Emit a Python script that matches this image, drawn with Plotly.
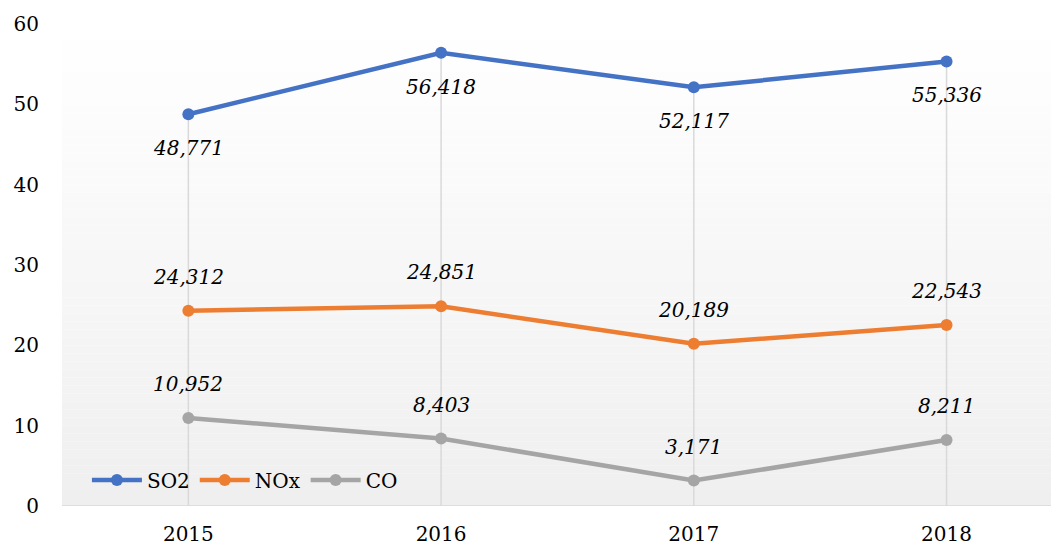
import plotly.graph_objects as go

years = ["2015", "2016", "2017", "2018"]
so2 = [48.771, 56.418, 52.117, 55.336]
nox = [24.312, 24.851, 20.189, 22.543]
co = [10.952, 8.403, 3.171, 8.211]
y_ticks = [0, 10, 20, 30, 40, 50, 60]

series = [
    ("SO2", so2, "#4472C4", -34),
    ("NOx", nox, "#ED7D31", 34),
    ("CO", co, "#A5A5A5", 34),
]

def fmt(v):
    return f"{v:,.3f}".replace(".", ",")

fig = go.Figure()

# gradient background bands
n = 60
shapes = []
for i in range(n):
    t = i / (n - 1)
    c = int(round(255 - (255 - 239) * t))
    shapes.append(dict(type="rect", xref="paper", yref="paper",
                       x0=0, x1=1, y0=1 - (i + 1) / n, y1=1 - i / n,
                       fillcolor=f"rgb({c},{c},{c})", line=dict(width=0), layer="below"))

# drop lines from top series to axis
dx, dy = [], []
for yr, v in zip(years, so2):
    dx += [yr, yr, None]
    dy += [0, v, None]
fig.add_trace(go.Scatter(x=dx, y=dy, mode="lines", line=dict(color="#d9d9d9", width=1.5),
                         showlegend=False, hoverinfo="skip"))

annotations = []
for name, vals, color, shift in series:
    fig.add_trace(go.Scatter(x=years, y=vals, name=name, mode="lines+markers",
                             line=dict(color=color, width=4.5),
                             marker=dict(color=color, size=12)))
    for i, v in enumerate(vals):
        annotations.append(dict(x=i, y=v, xref="x", yref="y", text=fmt(v),
                                showarrow=False, yshift=shift,
                                font=dict(family="DejaVu Serif", size=20, color="#000000",
                                          style="italic")))

fig.update_layout(
    width=1051, height=540,
    margin=dict(l=54, r=0, t=16, b=42, autoexpand=False),
    paper_bgcolor="white", plot_bgcolor="rgba(0,0,0,0)",
    shapes=shapes, annotations=annotations,
    font=dict(family="DejaVu Serif", size=20, color="#000000"),
    legend=dict(orientation="h", x=0.025, y=0.054, xanchor="left", yanchor="middle",
                bgcolor="rgba(0,0,0,0)", font=dict(size=20), itemwidth=50,
                traceorder="normal"),
    xaxis=dict(type="category", range=[-0.5, 3.445], showgrid=False, zeroline=False,
               showline=False, ticks="", automargin=False, ticklabelstandoff=14,
               tickfont=dict(size=20)),
    yaxis=dict(range=[0, 60], tickvals=y_ticks, showgrid=False, zeroline=False,
               showline=False, ticks="", automargin=False, ticklabelstandoff=22,
               tickfont=dict(size=20)),
)
# axis line at zero
fig.add_shape(type="line", xref="paper", yref="y", x0=0, x1=1, y0=0, y1=0,
              line=dict(color="#d9d9d9", width=1.5), layer="below")

fig.write_html("out.html")
